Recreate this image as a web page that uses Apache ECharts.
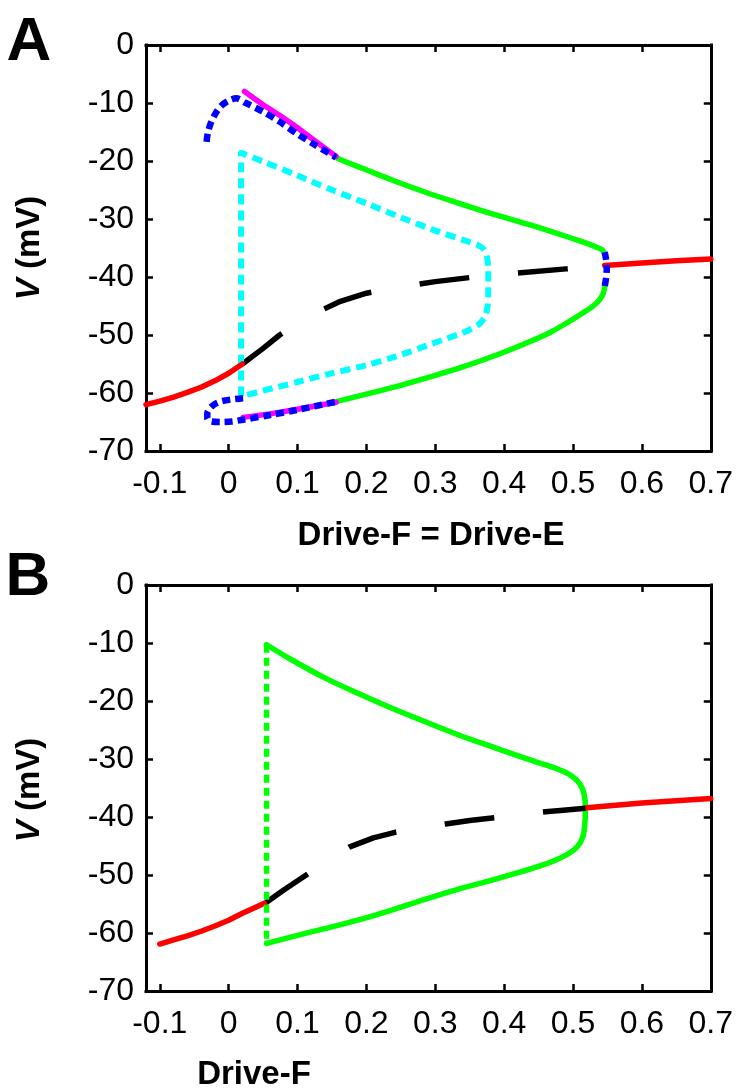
<!DOCTYPE html>
<html>
<head>
<meta charset="utf-8">
<script src="https://cdn.jsdelivr.net/npm/echarts@6/dist/echarts.min.js"></script>
<style>
html,body{margin:0;padding:0;background:#fff;}
#c{width:736px;height:1092px;}
</style>
</head>
<body>
<div id="c"></div>
<script>
// ---------- tick labels ----------
const xTicks = [-0.1, 0, 0.1, 0.2, 0.3, 0.4, 0.5, 0.6, 0.7];
const yTicks = [0, -10, -20, -30, -40, -50, -60, -70];

// ---------- Panel A (Drive-F = Drive-E) ----------
const redA_left = [[-0.12,-62.0],[-0.1,-61.4],[-0.08,-60.7],[-0.06,-59.9],[-0.04,-59.0],[-0.02,-57.9],[0.0,-56.6],[0.02,-55.0]];
const redA_right = [[0.546,-38.0],[0.6,-37.6],[0.65,-37.2],[0.7,-36.9]];
const blackA = [[0.02,-55.0],[0.05,-52.3],[0.074,-50.0],[0.1,-48.0],[0.13,-46.0],[0.16,-44.3],[0.2,-42.8],[0.25,-41.7],[0.3,-40.8],[0.35,-40.1],[0.42,-39.3],[0.49,-38.6],[0.546,-38.0]];
const greenA_upper = [[0.156,-19.4],[0.175,-20.4],[0.195,-21.3],[0.24,-23.4],[0.291,-25.6],[0.34,-27.5],[0.388,-29.3],[0.44,-31.1],[0.485,-32.8],[0.515,-34.0],[0.533,-34.8],[0.542,-35.3],[0.546,-35.9]];
const greenA_lower = [[0.546,-41.6],[0.544,-42.8],[0.538,-44.0],[0.528,-45.1],[0.513,-46.3],[0.494,-47.7],[0.466,-49.6],[0.436,-51.2],[0.39,-53.4],[0.34,-55.5],[0.29,-57.3],[0.243,-58.9],[0.2,-60.2],[0.156,-61.5]];
const blueA_fold = [[0.546,-35.7],[0.548,-37.0],[0.549,-38.6],[0.548,-40.2],[0.546,-41.6]];
const cyanA = [[0.018,-60.6],[0.018,-40.0],[0.018,-18.6],[0.05,-20.1],[0.1,-22.5],[0.146,-24.8],[0.2,-27.3],[0.243,-29.4],[0.3,-32.0],[0.34,-33.6],[0.362,-34.5],[0.371,-35.3],[0.375,-36.5],[0.377,-38.5],[0.377,-41.5],[0.376,-45.0],[0.372,-46.9],[0.362,-48.3],[0.34,-49.6],[0.3,-51.3],[0.243,-53.7],[0.2,-55.2],[0.146,-56.7],[0.1,-58.1],[0.05,-59.6],[0.018,-60.6]];
const magentaA_upper = [[0.023,-8.0],[0.05,-10.3],[0.075,-12.2],[0.098,-14.1],[0.125,-16.5],[0.156,-19.2]];
const magentaA_lower = [[0.021,-64.2],[0.06,-63.6],[0.1,-62.8],[0.156,-61.6]];
const blueA_upper = [[-0.032,-16.7],[-0.03,-15.0],[-0.025,-13.2],[-0.018,-11.6],[-0.01,-10.4],[0.0,-9.6],[0.011,-9.2],[0.025,-10.0],[0.05,-11.5],[0.075,-13.3],[0.098,-15.2],[0.125,-17.2],[0.156,-19.4]];
const blueA_lower = [[0.021,-60.9],[0.005,-61.1],[-0.01,-61.4],[-0.02,-61.9],[-0.027,-62.6],[-0.031,-63.5],[-0.031,-64.4],[-0.025,-64.9],[-0.01,-65.0],[0.005,-64.9],[0.021,-64.6],[0.06,-63.8],[0.1,-62.9],[0.156,-61.5]];

// ---------- Panel B (Drive-F) ----------
const redB_left = [[-0.1,-61.9],[-0.08,-61.2],[-0.06,-60.5],[-0.04,-59.7],[-0.02,-58.8],[0.0,-57.8],[0.02,-56.6],[0.04,-55.5],[0.055,-54.7]];
const redB_right = [[0.52,-38.4],[0.6,-37.6],[0.7,-36.8]];
const blackB = [[0.055,-54.7],[0.08,-52.6],[0.115,-49.8],[0.145,-47.3],[0.175,-45.2],[0.21,-43.6],[0.243,-42.6],[0.28,-41.8],[0.315,-41.2],[0.35,-40.6],[0.388,-40.1],[0.425,-39.6],[0.46,-39.1],[0.49,-38.8],[0.518,-38.5]];
const greenB = [[0.055,-10.3],[0.09,-12.8],[0.141,-16.1],[0.19,-18.8],[0.238,-21.3],[0.29,-23.8],[0.335,-25.9],[0.385,-28.0],[0.431,-29.9],[0.46,-31.0],[0.483,-32.0],[0.499,-33.0],[0.51,-34.3],[0.516,-36.0],[0.518,-38.5],[0.517,-41.5],[0.514,-43.5],[0.507,-45.0],[0.495,-46.2],[0.475,-47.4],[0.45,-48.5],[0.42,-49.6],[0.385,-50.8],[0.335,-52.4],[0.285,-54.2],[0.238,-56.0],[0.19,-57.7],[0.141,-59.2],[0.09,-60.7],[0.055,-61.8]];
const greenB_dotted = [[0.055,-10.3],[0.055,-61.8]];

// ---------- chart ----------
const FONT = 'Liberation Sans';
const chart = echarts.init(document.getElementById('c'), null, {renderer:'canvas'});
const fmtX = v => String(Math.round(v*10)/10);
const axisLineStyle = {color:'#000', width:3, cap:'square'};
const TICKFS = 32;

function xAxes(gridIndex){
  return [
    {type:'value', gridIndex, position:'bottom', min:-0.12, max:0.7,
     axisLine:{show:true, onZero:false, lineStyle:axisLineStyle},
     axisTick:{show:true, inside:true, length:7, customValues:xTicks, lineStyle:{color:'#000', width:2.5}},
     axisLabel:{show:true, customValues:xTicks, formatter:fmtX, margin:17, color:'#000', fontFamily:FONT, fontSize:TICKFS},
     splitLine:{show:false}},
    {type:'value', gridIndex, position:'top', min:-0.12, max:0.7,
     axisLine:{show:true, onZero:false, lineStyle:axisLineStyle},
     axisTick:{show:true, inside:true, length:7, customValues:xTicks, lineStyle:{color:'#000', width:2.5}},
     axisLabel:{show:false}, splitLine:{show:false}}
  ];
}
function yAxes(gridIndex){
  return [
    {type:'value', gridIndex, position:'left', min:-70, max:0, interval:10,
     axisLine:{show:true, onZero:false, lineStyle:axisLineStyle},
     axisTick:{show:true, inside:true, length:7, lineStyle:{color:'#000', width:2.5}},
     axisLabel:{show:true, margin:12, color:'#000', fontFamily:FONT, fontSize:TICKFS},
     splitLine:{show:false}},
    {type:'value', gridIndex, position:'right', min:-70, max:0, interval:10,
     axisLine:{show:true, onZero:false, lineStyle:axisLineStyle},
     axisTick:{show:true, inside:true, length:7, lineStyle:{color:'#000', width:2.5}},
     axisLabel:{show:false}, splitLine:{show:false}}
  ];
}
function ser(data, color, g, type, width, smooth, z){
  return {type:'line', data, xAxisIndex:g*2, yAxisIndex:g*2, showSymbol:false, symbol:'none',
          smooth: smooth, z: z, silent:true, clip:true,
          lineStyle:{color, width, type, cap: (type==='solid'?'round':'butt'), join:'round'}};
}
const dashLong = [50,49];
const dotC = [10,6];
const dotB = [8,5];

const option = {
  animation:false,
  backgroundColor:'#fff',
  grid:[
    {left:146, top:45, width:566, height:406},
    {left:146, top:585, width:566, height:406}
  ],
  xAxis:[...xAxes(0), ...xAxes(1)],
  yAxis:[...yAxes(0), ...yAxes(1)],
  series:[
    ser(blackA,'#000',0,dashLong,5.5,false,2),
    ser(cyanA,'#00ffff',0,dotC,6,0.25,3),
    ser(greenA_upper,'#00ff00',0,'solid',5.5,0.3,4),
    ser(greenA_lower,'#00ff00',0,'solid',5.5,0.3,4),
    ser(redA_left,'#ff0000',0,'solid',5.5,false,4),
    ser(redA_right,'#ff0000',0,'solid',5.5,false,4),
    ser(magentaA_upper,'#ff00ff',0,'solid',5.5,false,5),
    ser(magentaA_lower,'#ff00ff',0,'solid',5.5,false,5),
    ser(blueA_upper,'#0000ff',0,dotB,6.5,0.3,6),
    ser(blueA_lower,'#0000ff',0,dotB,6.5,0.3,6),
    ser(blueA_fold,'#0000ff',0,dotB,6.5,0.3,6),

    ser(greenB,'#00ff00',1,'solid',5.5,0.3,3),
    ser(redB_left,'#ff0000',1,'solid',5.5,false,4),
    ser(redB_right,'#ff0000',1,'solid',5.5,false,4),
    ser(blackB,'#000',1,dashLong,5.5,false,5),
    ser(greenB_dotted,'#00ff00',1,dotB,5.5,false,6)
  ],
  graphic:[
    {type:'text', x:29, y:43, style:{text:'A', fontFamily:FONT, fontWeight:'bold', fontSize:62, fill:'#000', textAlign:'center', textVerticalAlign:'middle'}},
    {type:'text', x:28, y:578, style:{text:'B', fontFamily:FONT, fontWeight:'bold', fontSize:62, fill:'#000', textAlign:'center', textVerticalAlign:'middle'}},
    {type:'text', x:431, y:536, style:{text:'Drive-F = Drive-E', fontFamily:FONT, fontWeight:'bold', fontSize:33, fill:'#000', textAlign:'center', textVerticalAlign:'middle'}},
    {type:'text', x:254, y:1075, style:{text:'Drive-F', fontFamily:FONT, fontWeight:'bold', fontSize:33, fill:'#000', textAlign:'center', textVerticalAlign:'middle'}},
    {type:'text', x:30, y:248, rotation:Math.PI/2, style:{text:'{i|V} (mV)', rich:{i:{fontStyle:'italic', fontWeight:'bold', fontFamily:FONT, fontSize:33, fill:'#000'}}, fontFamily:FONT, fontWeight:'bold', fontSize:33, fill:'#000', textAlign:'center', textVerticalAlign:'middle'}},
    {type:'text', x:30, y:790, rotation:Math.PI/2, style:{text:'{i|V} (mV)', rich:{i:{fontStyle:'italic', fontWeight:'bold', fontFamily:FONT, fontSize:33, fill:'#000'}}, fontFamily:FONT, fontWeight:'bold', fontSize:33, fill:'#000', textAlign:'center', textVerticalAlign:'middle'}}
  ]
};
chart.setOption(option);
</script>
</body>
</html>
